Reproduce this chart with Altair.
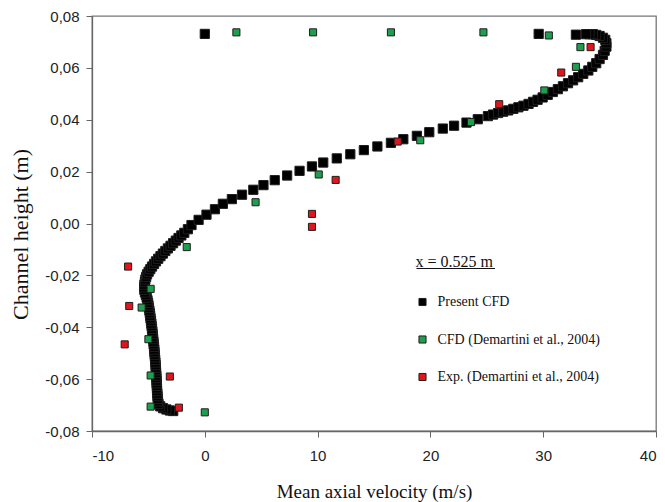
import altair as alt
import pandas as pd

# Present CFD (black squares)
cfd_v = [-2.8, -3.1, -3.4, -3.7, -3.95, -4.1, -4.15, -4.17,
         -4.19, -4.21, -4.23, -4.24, -4.25, -4.27, -4.28, -4.29, -4.30, -4.32,
         -4.33, -4.35, -4.36, -4.38, -4.40, -4.42, -4.44, -4.46, -4.48, -4.50,
         -4.53, -4.55, -4.58, -4.60, -4.63, -4.65, -4.68, -4.71, -4.74, -4.77,
         -4.81, -4.84, -4.87, -4.91, -4.95, -4.99, -5.03, -5.08, -5.15, -5.22,
         -5.30, -5.36, -5.38, -5.35, -5.31, -5.27, -5.20, -5.12, -4.98, -4.83,
         -4.68, -4.50, -4.33, -4.13, -3.93, -3.72, -3.50, -3.27, -3.04, -2.81,
         -2.57, -2.33, -2.08, -1.82, -1.50, -1.18,
         -0.55, 0.15, 0.9, 1.6, 2.4, 3.3, 4.3, 5.2, 6.2, 7.3, 8.4, 9.5, 10.5,
         11.7, 12.9, 14.1, 15.3, 16.5, 17.6, 18.8, 19.9, 21.1, 22.1, 23.2, 24.2,
         25.1, 25.55, 26.0, 26.45, 26.9, 27.35, 27.8, 28.25, 28.7, 29.1, 29.5,
         29.95, 30.4, 30.85, 31.3, 31.75, 32.2, 32.65, 33.1, 33.55, 34.0, 34.35,
         34.7, 35.0, 35.3, 35.45, 35.6, 35.6, 35.5, 35.3, 35.0, 34.7, 34.4, 34.1,
         33.8, 32.9, 29.6, 0.0]
cfd_h = [-0.0723, -0.0721, -0.0717, -0.0712, -0.0705, -0.0696, -0.0686, -0.0676,
         -0.0666, -0.0656, -0.0646, -0.0636, -0.0626, -0.0616, -0.0606, -0.0596, -0.0586, -0.0576,
         -0.0566, -0.0556, -0.0546, -0.0536, -0.0526, -0.0516, -0.0506, -0.0496, -0.0486, -0.0476,
         -0.0466, -0.0456, -0.0446, -0.0436, -0.0426, -0.0416, -0.0406, -0.0396, -0.0386, -0.0376,
         -0.0366, -0.0356, -0.0346, -0.0336, -0.0326, -0.0316, -0.0306, -0.0296, -0.0286, -0.0276,
         -0.0266, -0.0256, -0.0246, -0.0236, -0.0226, -0.0216, -0.0206, -0.0196, -0.0186, -0.0176,
         -0.0166, -0.0156, -0.0146, -0.0136, -0.0126, -0.0116, -0.0106, -0.0096, -0.0086, -0.0076,
         -0.0066, -0.0056, -0.0046, -0.0036, -0.0022, -0.0006,
         0.0014, 0.0034, 0.0055, 0.0076, 0.0094, 0.0111, 0.0130, 0.0148, 0.0167, 0.0185, 0.0203, 0.0220, 0.0235,
         0.0251, 0.0267, 0.0283, 0.0297, 0.0311, 0.0325, 0.0338, 0.0352, 0.0366, 0.0377, 0.0389, 0.0402,
         0.0414, 0.0420, 0.0426, 0.0431, 0.0436, 0.0442, 0.0448, 0.0454, 0.0461, 0.0469, 0.0477,
         0.0486, 0.0496, 0.0507, 0.0518, 0.0529, 0.0541, 0.0552, 0.0564, 0.0577, 0.0590, 0.0604,
         0.0618, 0.0634, 0.0650, 0.0666, 0.0682, 0.0695, 0.0708, 0.0716, 0.0723, 0.0727, 0.0730, 0.0730,
         0.0730, 0.0728, 0.0731, 0.0731]

# CFD (Demartini et al., 2004) (green squares)
dem_v = [2.8, 9.6, 16.5, 24.7, 30.5, 33.3, 32.9, 30.1, 23.6, 19.1, 10.1, 4.5,
         -1.6, -4.8, -5.6, -5.0, -4.8, -4.8, 0.0]
dem_h = [0.0737, 0.0737, 0.0737, 0.0737, 0.0725, 0.0680, 0.0604, 0.0513, 0.0391,
         0.0321, 0.0189, 0.0082, -0.0091, -0.0252, -0.0324, -0.0446, -0.0586, -0.0706, -0.0728]

# Exp. (Demartini et al., 2004) (red squares)
exp_v = [34.2, 31.6, 26.1, 17.1, 11.6, 9.5, 9.5, -6.8, -6.7, -7.1, -3.1, -2.3]
exp_h = [0.0680, 0.0582, 0.0460, 0.0316, 0.0168, 0.0037, -0.0013, -0.0166,
         -0.0318, -0.0466, -0.0590, -0.0710]

series_names = ["Present CFD", "CFD (Demartini et al., 2004)", "Exp. (Demartini et al., 2004)"]
series_colors = ["#000000", "#1f9e4f", "#e3141c"]

x_ticks = [-10, 0, 10, 20, 30, 40]
y_ticks = [-0.08, -0.06, -0.04, -0.02, 0.0, 0.02, 0.04, 0.06, 0.08]

rows = []
for name, vs, hs in zip(series_names, [cfd_v, dem_v, exp_v], [cfd_h, dem_h, exp_h]):
    for v, h in zip(vs, hs):
        rows.append({"v": v, "h": h, "series": name})
df = pd.DataFrame(rows)
df["order"] = range(len(df))

serif = "Liberation Serif"
sans = "Liberation Sans"

x_enc = alt.X("v:Q", scale=alt.Scale(domain=[-10, 40], nice=False, zero=False),
              axis=alt.Axis(values=x_ticks, grid=False, tickSize=6, labelPadding=11,
                            labelFont=sans, labelFontSize=15, labelColor="#222",
                            labelExpr="(datum.value < 0 ? '-' : '') + format(abs(datum.value), 'd')",
                            domainColor="#666", tickColor="#666", domainWidth=1.3,
                            title="Mean axial velocity (m/s)", titleFont=serif,
                            titleFontSize=19, titleFontWeight="normal", titleColor="#111",
                            titleBaseline="alphabetic", titleY=66))
y_enc = alt.Y("h:Q", scale=alt.Scale(domain=[-0.08, 0.08], nice=False, zero=False),
              axis=alt.Axis(values=y_ticks, grid=False, tickSize=6, labelPadding=7,
                            labelFont=sans, labelFontSize=15, labelColor="#222",
                            labelExpr="(datum.value < -0.0001 ? '-' : '') + replace(format(abs(datum.value), '.2f'), '.', ',')",
                            domainColor="#666", tickColor="#666", domainWidth=1.3,
                            title="Channel height (m)", titleFont=serif,
                            titleFontSize=22, titleFontWeight="normal", titleColor="#111",
                            titleAngle=270, titleBaseline="alphabetic", titleX=-65, titleY=218))
fill_enc = alt.Fill("series:N", scale=alt.Scale(domain=series_names, range=series_colors),
                    legend=alt.Legend(title="x = 0.525 m", orient="none", legendX=323.5, legendY=238,
                                      padding=0, titleFont=serif, titleFontSize=16,
                                      titleFontWeight="normal", titleColor="#111",
                                      titlePadding=25, titleAnchor="start",
                                      labelFont=serif, labelFontSize=14, labelColor="#111",
                                      labelLimit=0,
                                      labelOffset=8, symbolType="square", symbolSize=50,
                                      symbolStrokeColor="#1e1e1e", symbolStrokeWidth=1,
                                      symbolOpacity=1, rowPadding=23.5))

base = alt.Chart(df).encode(x=x_enc, y=y_enc, fill=fill_enc, order=alt.Order("order:Q"))

black_pts = base.transform_filter(alt.datum.series == series_names[0]).mark_point(
    shape="square", filled=True, opacity=1, size=85, stroke="#1e1e1e", strokeWidth=1
)
ref_pts = base.transform_filter(alt.datum.series != series_names[0]).mark_point(
    shape="square", filled=True, opacity=1, size=50, stroke="#1e1e1e", strokeWidth=1
)

underline = alt.Chart(pd.DataFrame({"k": [0]})).mark_rule(color="#111", strokeWidth=1).encode(
    x=alt.value(324.5), x2=alt.value(403), y=alt.value(252.5)
)

chart = alt.layer(black_pts, ref_pts, underline).properties(
    width=564, height=415,
    autosize=alt.AutoSizeParams(type="none"),
    padding={"left": 92, "top": 16, "right": 9, "bottom": 71},
).configure_view(stroke="#777", strokeWidth=1.3)

chart.save("out.html", embed_options={"renderer": "svg", "actions": False})
